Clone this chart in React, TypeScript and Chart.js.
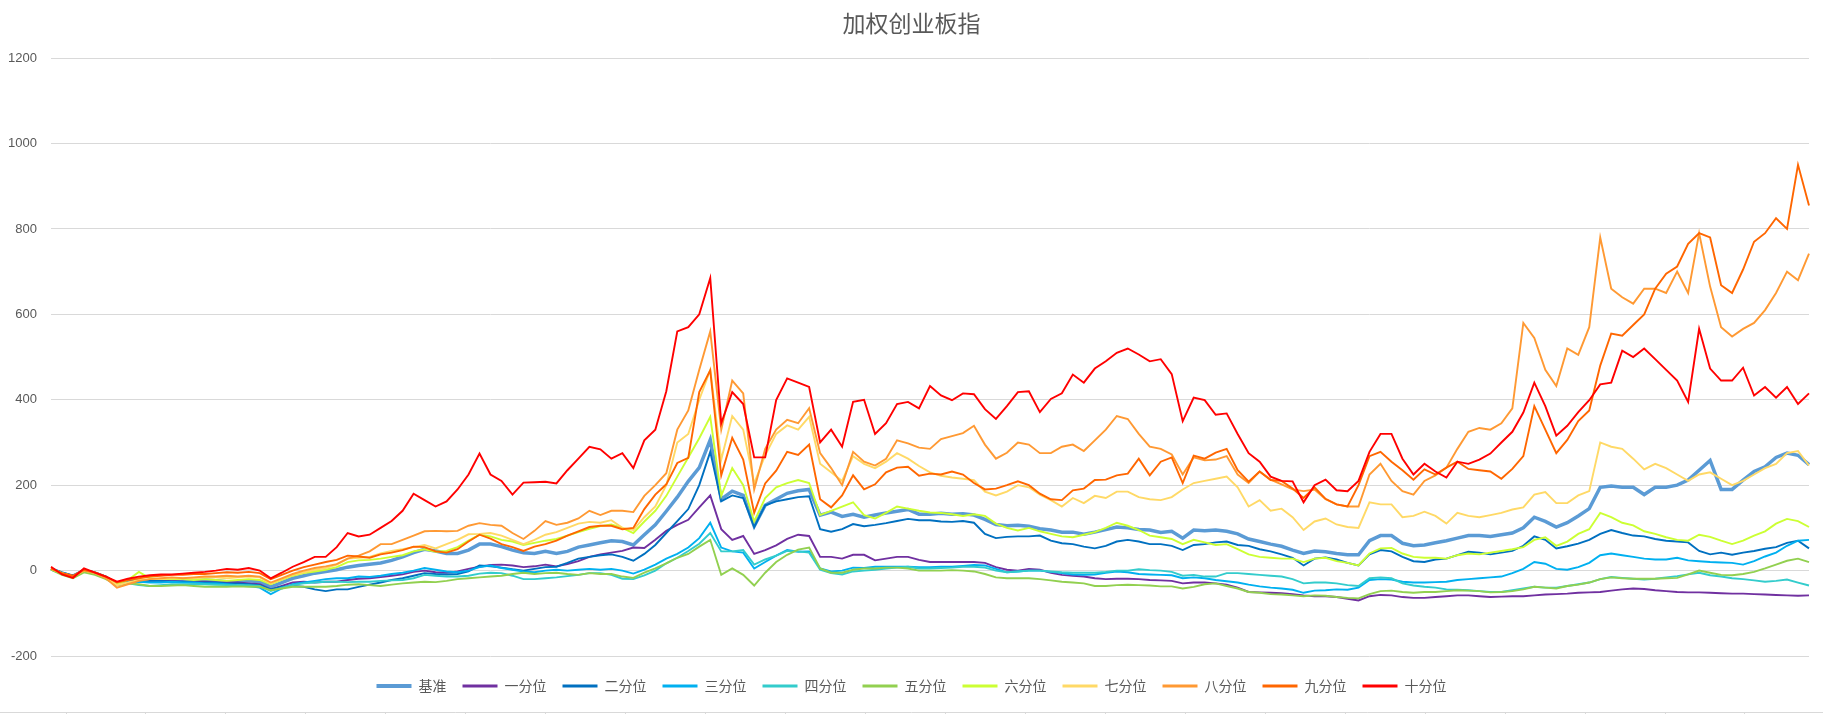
import { useEffect, useRef } from "react";
import { Chart, registerables } from "chart.js";

Chart.register(...registerables);

// Cumulative excess return (%) of the weighted ChiNext index and its decile portfolios
const seriesNames = ["基准", "一分位", "二分位", "三分位", "四分位", "五分位", "六分位", "七分位", "八分位", "九分位", "十分位"];
const seriesColors = ["#5B9BD5", "#7030A0", "#0070C0", "#00B0F0", "#33CCCC", "#92D050", "#CCFF33", "#FFD966", "#FF9933", "#FF6600", "#FF0000"];

const benchmark = [
  4, -6, -13, 0, -6, -16, -33, -26, -24, -24, -24, -22, -22, -24, -22, -24, -26, -26, -24, -26, -38, -28, -18, -12, -6, -2,
  2, 8, 12, 15, 18, 24, 32, 42, 50, 46, 40, 40, 48, 62, 62, 56, 48, 42, 40, 45, 40, 45, 55, 60, 65, 70,
  68, 60, 84, 107, 139, 172, 209, 241, 306, 167, 186, 176, 104, 153, 167, 181, 187, 190, 130, 137, 127, 132, 125, 130, 135, 139, 143,
  132, 132, 134, 132, 133, 130, 120, 108, 105, 106, 104, 98, 95, 90, 90, 85, 90, 96, 102, 100, 96, 95, 89, 92, 76, 95,
  93, 95, 92, 86, 74, 68, 62, 57, 48, 40, 46, 44, 40, 37, 37, 70, 82, 82, 64, 58, 60, 65, 70, 76, 82, 82,
  80, 84, 88, 100, 125, 115, 102, 112, 128, 145, 195, 198, 195, 195, 178, 195, 195, 200, 212, 235, 258, 190, 190, 212, 232, 243, 265, 275, 270, 248,
];

const decile1 = [
  4, -6, -12, 0, -6, -16, -32, -26, -24, -24, -22, -24, -26, -26, -26, -28, -28, -28, -30, -32, -44, -36, -28, -26, -28, -26,
  -26, -22, -19, -18, -15, -12, -9, -3, 0, -4, -5, -2, 4, 9, 13, 14, 12, 8, 10, 14, 10, 15, 22, 32, 38, 42,
  46, 54, 53, 72, 93, 107, 119, 148, 176, 97, 72, 81, 39, 48, 59, 74, 84, 81, 32, 32, 28, 37, 37, 24, 28, 32, 32,
  25, 20, 20, 20, 20, 20, 18, 8, 2, 0, 4, 2, -5, -10, -12, -14, -18, -20, -19, -19, -20, -22, -23, -24, -30, -28,
  -28, -30, -33, -40, -50, -51, -52, -53, -55, -58, -60, -60, -62, -66, -70, -60, -57, -58, -62, -64, -64, -62, -60, -58, -58, -60,
  -62, -61, -60, -60, -58, -56, -55, -54, -52, -51, -50, -47, -44, -42, -43, -46, -48, -50, -51, -51, -52, -53, -54, -54, -55, -56, -57, -58, -59, -58,
];

const decile2 = [
  5, -4, -12, 2, -4, -14, -30, -26, -24, -24, -24, -26, -26, -28, -28, -28, -30, -30, -32, -34, -44, -38, -36, -38, -44, -48,
  -44, -44, -38, -33, -28, -22, -18, -12, -6, -8, -9, -8, -2, 12, 10, 7, 3, 0, 4, 8, 9, 18, 28, 32, 36, 38,
  32, 23, 39, 60, 88, 116, 144, 200, 278, 162, 176, 170, 102, 153, 162, 167, 172, 174, 97, 91, 97, 109, 104, 107, 111, 116, 121,
  118, 118, 115, 114, 116, 112, 86, 76, 79, 80, 80, 82, 70, 64, 62, 56, 52, 58, 68, 72, 68, 62, 62, 58, 48, 60,
  62, 66, 68, 60, 58, 50, 45, 38, 30, 12, 28, 31, 26, 18, 12, 38, 48, 45, 32, 22, 20, 26, 28, 36, 44, 42,
  38, 42, 46, 58, 80, 72, 52, 57, 63, 72, 86, 95, 88, 82, 80, 74, 70, 68, 66, 46, 38, 42, 37, 42, 46, 51, 55, 65, 70, 52,
];

const decile3 = [
  4, -6, -14, 0, -6, -16, -32, -28, -26, -28, -28, -26, -28, -28, -30, -30, -32, -34, -36, -40, -55, -42, -32, -28, -24, -20,
  -18, -18, -14, -15, -12, -8, -5, 0, 6, 2, -2, -4, 0, 8, 12, 6, 2, -2, -4, 0, 2, 0, 2, 4, 2, 4,
  0, -7, 2, 14, 28, 39, 54, 76, 112, 54, 45, 42, 5, 20, 35, 48, 44, 45, 5, -2, 0, 7, 6, 9, 9, 9, 9,
  8, 8, 9, 9, 11, 13, 12, 4, -4, -2, 0, 0, -3, -6, -9, -10, -9, -5, -2, -4, -8, -9, -10, -11, -18, -16,
  -18, -22, -25, -28, -33, -37, -40, -42, -45, -52, -47, -46, -44, -45, -40, -22, -20, -21, -26, -28, -28, -27, -26, -22, -20, -18,
  -16, -14, -6, 4, 20, 16, 4, 2, 8, 18, 36, 40, 36, 32, 28, 26, 26, 30, 24, 22, 20, 19, 18, 14, 22, 33, 42, 58, 70, 72,
];

const decile4 = [
  3, -7, -15, -2, -8, -18, -34, -30, -34, -36, -34, -32, -32, -32, -32, -33, -34, -34, -34, -36, -48, -40, -34, -30, -28, -26,
  -26, -27, -26, -26, -24, -23, -22, -18, -10, -12, -14, -14, -12, -7, -5, -6, -12, -20, -20, -18, -16, -13, -10, -6, -6, -10,
  -19, -20, -11, 0, 17, 30, 46, 63, 88, 45, 45, 48, 14, 26, 35, 46, 45, 42, 2, -6, -9, -2, 0, 2, 5, 7, 9,
  5, 5, 6, 7, 9, 9, 7, 0, -4, -2, 0, 0, -2, -4, -5, -5, -5, -3, 0, 0, 3, 1, 0, -3, -12, -10,
  -14, -14, -6, -6, -8, -10, -12, -14, -20, -30, -28, -28, -30, -34, -36, -18, -16, -18, -30, -35, -38, -40, -44, -45, -46, -48,
  -50, -50, -46, -42, -38, -40, -40, -36, -32, -28, -20, -15, -17, -19, -21, -19, -16, -13, -9, -5, -11, -14, -18, -20, -23, -26, -24, -21, -28, -35,
];

const decile5 = [
  2, -10, -18, -4, -10, -20, -34, -30, -32, -36, -36, -35, -34, -36, -38, -38, -38, -37, -38, -38, -46, -42, -38, -38, -38, -38,
  -36, -33, -32, -34, -36, -33, -30, -28, -26, -27, -24, -20, -18, -16, -14, -12, -8, -5, -8, -6, -5, -8, -10, -6, -8, -8,
  -14, -17, -5, 5, 17, 30, 39, 56, 72, -10, 5, -10, -35, -5, 20, 37, 49, 54, 5, -5, -5, 2, 5, 5, 7, 7, 5,
  0, 0, 0, 1, 0, -2, -8, -16, -18, -18, -18, -20, -23, -26, -28, -30, -36, -36, -34, -33, -34, -35, -37, -37, -42, -38,
  -32, -30, -36, -42, -50, -52, -55, -56, -58, -60, -58, -59, -62, -64, -65, -55, -48, -47, -50, -52, -50, -50, -48, -46, -47, -48,
  -51, -50, -48, -44, -38, -40, -42, -36, -33, -28, -20, -16, -18, -19, -19, -19, -18, -17, -9, 0, -5, -10, -11, -8, -3, 5, 14, 23, 28, 20,
];

const decile6 = [
  4, -6, -14, 0, -5, -16, -32, -22, -3, -18, -20, -20, -20, -22, -20, -22, -24, -22, -20, -22, -32, -22, -12, -6, -2, 2,
  8, 20, 24, 25, 28, 32, 36, 45, 50, 44, 46, 55, 70, 84, 80, 72, 68, 60, 65, 70, 74, 82, 90, 98, 104, 108,
  100, 88, 115, 140, 175, 220, 265, 310, 360, 175, 240, 200, 115, 170, 195, 205, 212, 205, 130, 140, 150, 160, 130, 122, 135, 150, 145,
  140, 136, 135, 132, 128, 132, 128, 110, 100, 94, 100, 92, 86, 80, 78, 84, 90, 100, 112, 105, 95, 82, 78, 74, 62, 72,
  66, 60, 62, 50, 38, 32, 30, 28, 28, 20, 28, 30, 22, 18, 12, 40, 52, 53, 40, 32, 30, 30, 28, 36, 40, 38,
  42, 46, 50, 55, 72, 78, 58, 68, 86, 97, 135, 125, 112, 106, 92, 86, 78, 72, 70, 84, 79, 70, 62, 70, 82, 92, 110, 121, 116, 102,
];

const decile7 = [
  4, -6, -13, 0, -6, -16, -34, -28, -22, -20, -20, -18, -18, -18, -16, -16, -18, -16, -14, -16, -30, -20, -10, -4, 2, 6,
  14, 28, 30, 32, 40, 46, 50, 55, 60, 52, 62, 72, 85, 86, 88, 82, 72, 62, 72, 84, 90, 100, 110, 114, 112, 118,
  100, 95, 125, 150, 200, 300, 320, 400, 470, 260, 362, 330, 204, 270, 320, 340, 330, 360, 250, 230, 210, 268, 250, 240, 255, 275, 262,
  245, 230, 222, 218, 215, 212, 185, 176, 185, 200, 195, 178, 165, 150, 170, 158, 175, 170, 185, 185, 172, 167, 165, 172, 190, 205,
  210, 215, 220, 195, 150, 165, 140, 145, 125, 95, 115, 122, 108, 102, 100, 160, 155, 155, 125, 128, 138, 128, 110, 135, 128, 125,
  130, 135, 143, 148, 178, 184, 158, 158, 176, 186, 300, 290, 285, 262, 237, 250, 240, 225, 210, 225, 230, 215, 200, 210, 225, 240, 250, 275, 280, 246,
];

const decile8 = [
  4, -6, -14, 0, -6, -18, -40, -32, -24, -20, -18, -16, -18, -16, -14, -14, -12, -14, -12, -14, -28, -18, -8, 0, 6, 10,
  15, 28, 35, 45, 62, 62, 72, 82, 92, 93, 92, 93, 105, 111, 107, 105, 88, 74, 93, 116, 107, 112, 122, 140, 130, 140,
  140, 137, 175, 200, 228, 330, 375, 470, 560, 330, 445, 415, 190, 285, 330, 353, 345, 380, 275, 240, 200, 278, 255, 246, 262, 305, 298,
  288, 285, 308, 315, 322, 339, 295, 262, 276, 300, 295, 275, 275, 290, 295, 280, 305, 330, 362, 355, 320, 290, 285, 272, 225, 265,
  258, 260, 268, 225, 205, 232, 213, 202, 190, 186, 190, 167, 155, 150, 150, 225, 250, 210, 186, 178, 210, 223, 241, 285, 325, 334,
  330, 345, 380, 580, 545, 470, 432, 520, 505, 570, 780, 660, 640, 625, 660, 660, 650, 700, 650, 790, 665, 570, 548, 566, 580, 610, 650, 700, 680, 742,
];

const decile9 = [
  5, -6, -12, 2, -4, -14, -28, -22, -18, -14, -12, -10, -10, -8, -8, -6, -4, -5, -3, -6, -20, -10, 0, 8, 14, 20,
  25, 35, 33, 30, 38, 42, 48, 56, 55, 45, 42, 50, 68, 84, 75, 62, 55, 46, 56, 62, 70, 82, 92, 102, 105, 105,
  97, 100, 144, 178, 202, 252, 264, 418, 469, 223, 311, 260, 135, 204, 234, 278, 271, 295, 167, 148, 176, 223, 190, 202, 230, 241, 243,
  222, 227, 225, 232, 225, 205, 190, 192, 200, 209, 200, 180, 167, 165, 188, 192, 212, 213, 223, 227, 262, 223, 255, 265, 205, 269,
  262, 276, 285, 235, 208, 232, 212, 210, 192, 170, 195, 168, 155, 150, 200, 268, 278, 255, 235, 213, 237, 225, 241, 255, 238, 235,
  232, 215, 238, 268, 385, 330, 275, 306, 350, 375, 480, 555, 550, 575, 600, 660, 695, 712, 765, 790, 780, 668, 650, 705, 770, 790, 825, 800, 950, 855,
];

const decile10 = [
  9, -9, -17, 5, -5, -14, -26, -19, -14, -11, -9, -9, -7, -5, -3, 0, 4, 2, 6, 0, -18, -5, 9, 20, 32, 32,
  55, 88, 80, 84, 100, 116, 140, 180, 165, 150, 162, 190, 225, 274, 225, 210, 178, 206, 207, 208, 204, 235, 262, 290, 284, 262,
  275, 240, 305, 330, 420, 560, 570, 600, 685, 345, 418, 390, 265, 265, 399, 450, 440, 430, 300, 330, 290, 395, 400, 320, 345, 390, 395,
  380, 432, 410, 399, 415, 413, 378, 355, 385, 418, 420, 371, 402, 415, 459, 440, 473, 490, 510, 520, 506, 490, 495, 460, 350, 405,
  399, 365, 368, 320, 275, 255, 220, 210, 209, 160, 200, 213, 188, 186, 210, 278, 320, 320, 262, 225, 250, 232, 218, 255, 250, 260,
  274, 300, 325, 370, 440, 385, 316, 339, 371, 399, 436, 440, 515, 500, 520, 495, 470, 445, 395, 566, 473, 445, 445, 475, 410, 430, 405, 430, 390, 415,
];

const seriesValues = [benchmark, decile1, decile2, decile3, decile4, decile5, decile6, decile7, decile8, decile9, decile10];

// Sequential sample labels (the date axis carries no printed labels)
const sampleLabels = benchmark.map((_, i) => String(i + 1));

const yTicks = { min: -200, max: 1200, step: 200 };

const GRID = "#d9d9d9";
const TEXT = "#595959";
const CJK = "'Noto Sans CJK SC', 'Noto Sans', sans-serif";

// Thin horizontal rule with small tick marks along the bottom edge of the canvas
const bottomRule = {
  id: "bottomRule",
  afterDraw(chart: any) {
    const { ctx, width, height } = chart;
    const y = height - 1.5;
    ctx.save();
    ctx.strokeStyle = GRID;
    ctx.lineWidth = 1;
    ctx.beginPath();
    ctx.moveTo(0, y);
    ctx.lineTo(width, y);
    for (let x = 65.5; x < width; x += 79.95) {
      const px = Math.round(x) + 0.5;
      ctx.moveTo(px, y);
      ctx.lineTo(px, height);
    }
    ctx.stroke();
    ctx.restore();
  },
};

export default function App() {
  const canvasRef = useRef<HTMLCanvasElement | null>(null);

  useEffect(() => {
    if (!canvasRef.current) return;
    const datasets = seriesValues.map((values, i) => ({
      label: seriesNames[i],
      data: values,
      borderColor: seriesColors[i],
      backgroundColor: seriesColors[i],
      borderWidth: i === 0 ? 3.5 : 1.9,
      pointRadius: 0,
      pointHoverRadius: 0,
      tension: 0,
      fill: false,
      yAxisID: "y",
      order: seriesValues.length - i,
    }));

    const chart = new Chart(canvasRef.current, {
      type: "line",
      data: { labels: sampleLabels, datasets },
      plugins: [bottomRule],
      options: {
        responsive: false,
        animation: false,
        devicePixelRatio: 1,
        events: [],
        layout: { padding: { left: 0, right: 0, top: 0, bottom: 11 } },
        scales: {
          x: {
            display: true,
            grid: { display: false },
            border: { display: false },
            ticks: { display: false },
            afterFit: (scale: any) => {
              scale.height = 7;
            },
          },
          y: {
            position: "left",
            min: yTicks.min,
            max: yTicks.max,
            ticks: {
              stepSize: yTicks.step,
              color: TEXT,
              padding: 14,
              font: { family: "'Liberation Sans', Arial, sans-serif", size: 13 },
              callback: (value: any) => String(value),
            },
            grid: { color: GRID, lineWidth: 1, drawTicks: false },
            border: { display: false },
            afterFit: (scale: any) => {
              scale.width = 51;
            },
          },
          // empty right-hand margin so the plot ends short of the canvas edge
          yMargin: {
            type: "linear",
            position: "right",
            display: true,
            grid: { display: false },
            border: { display: false },
            ticks: { display: false },
            afterFit: (scale: any) => {
              scale.width = 14;
            },
          },
        },
        plugins: {
          title: {
            display: true,
            text: "加权创业板指",
            color: TEXT,
            font: { family: CJK, size: 23, weight: "normal" },
            padding: { top: 9, bottom: 21.5 },
          },
          legend: {
            position: "bottom",
            labels: {
              usePointStyle: true,
              pointStyleWidth: 35,
              padding: 16,
              color: TEXT,
              font: { family: CJK, size: 14 },
              generateLabels: (c: any) =>
                c.data.datasets.map((ds: any, i: number) => ({
                  text: ds.label,
                  fillStyle: ds.borderColor,
                  strokeStyle: ds.borderColor,
                  fontColor: TEXT,
                  lineWidth: i === 0 ? 4 : 3,
                  lineCap: "butt",
                  pointStyle: "line",
                  hidden: false,
                  datasetIndex: i,
                })),
            },
          },
          tooltip: { enabled: false },
        },
      },
    });
    return () => chart.destroy();
  }, []);

  return (
    <div style={{ position: "fixed", left: 0, top: 0, width: 1823, height: 714, background: "#ffffff" }}>
      <canvas ref={canvasRef} width={1823} height={714} style={{ display: "block" }} />
    </div>
  );
}
